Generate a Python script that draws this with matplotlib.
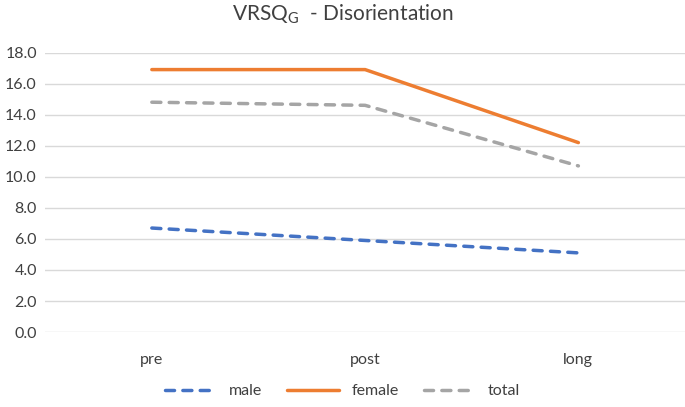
import matplotlib.pyplot as plt

plt.rcParams['font.family'] = ['Lato', 'DejaVu Sans']
plt.rcParams['mathtext.fontset'] = 'custom'
plt.rcParams['mathtext.rm'] = 'Lato'

categories = ["pre", "post", "long"]
male = [6.7, 5.9, 5.1]
female = [16.9, 16.9, 12.2]
total = [14.8, 14.6, 10.7]
yticks = [0, 2, 4, 6, 8, 10, 12, 14, 16, 18]

fig = plt.figure(figsize=(6.85, 4.07), dpi=100)
ax = fig.add_axes([0.066, 0.184, 0.934, 0.687])

x = range(len(categories))
ax.plot(x, male, color="#4472C4", lw=2.5, ls=(0, (2.6, 2.4)), dash_capstyle="round", label="male")
ax.plot(x, female, color="#ED7D31", lw=2.5, solid_capstyle="round", label="female")
ax.plot(x, total, color="#A5A5A5", lw=2.5, ls=(0, (2.6, 2.4)), dash_capstyle="round", label="total")

ax.set_xlim(-0.5, 2.5)
ax.set_ylim(0, 18)
ax.set_yticks(yticks)
ax.set_yticklabels([f"{v:.1f}" for v in yticks])
ax.set_xticks(list(x))
ax.set_xticklabels(categories)
ax.tick_params(length=0, labelsize=11.5, colors="#404040")
ax.tick_params(axis="x", pad=15)
ax.tick_params(axis="y", pad=6)
ax.grid(axis="y", color="#D9D9D9", lw=1)
ax.set_axisbelow(True)
for s in ax.spines.values():
    s.set_visible(False)

fig.suptitle(r"VRSQ$_{\mathrm{G}}$  - Disorientation", y=0.995, fontsize=15, color="#404040")
fig.legend(loc="lower center", bbox_to_anchor=(0.5, -0.014), ncol=3, frameon=False,
           fontsize=11.5, handlelength=3.2, columnspacing=1.6, labelcolor="#404040")

fig.savefig("out.png", dpi=100)
